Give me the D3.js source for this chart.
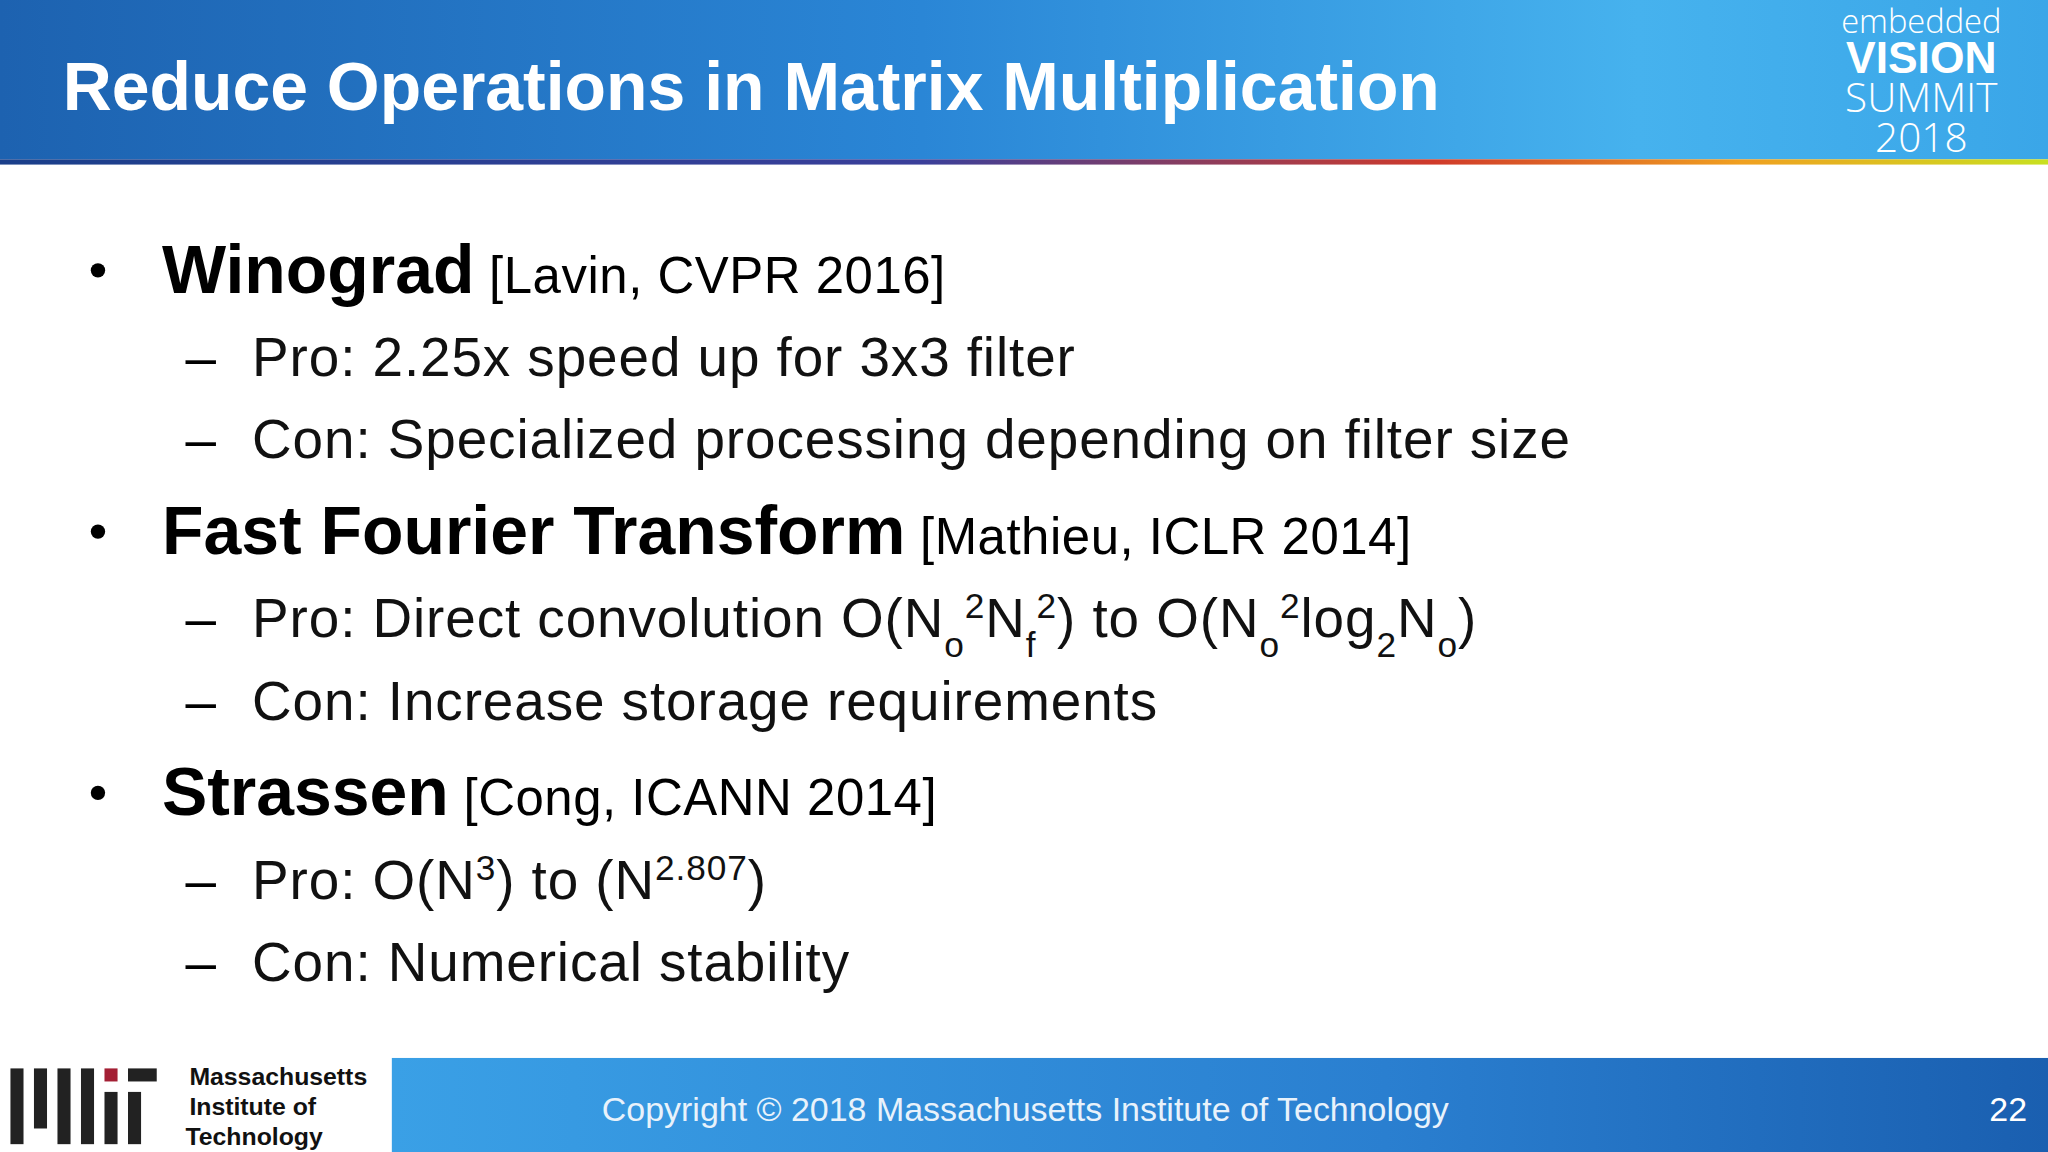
<!DOCTYPE html>
<html><head><meta charset="utf-8">
<script src="https://cdn.jsdelivr.net/npm/d3@7"></script>
<style>body{margin:0;background:#fff}svg{display:block}</style>
</head><body>
<script>
const title = "Reduce Operations in Matrix Multiplication";
const mainItems = ["Winograd", "Fast Fourier Transform", "Strassen"];
const mainRefs = [" [Lavin, CVPR 2016]", " [Mathieu, ICLR 2014]", " [Cong, ICANN 2014]"];
const subItems = [
  [[["Pro: 2.25x speed up for 3x3 filter","n"]], [["Con: Specialized processing depending on filter size","n"]]],
  [[["Pro: Direct convolution O(N","n"],["o","sub"],["2","sup"],["N","n"],["f","sub"],["2","sup"],[") to O(N","n"],["o","sub"],["2","sup"],["log","n"],["2","sub"],["N","n"],["o","sub"],[")","n"]],
   [["Con: Increase storage requirements","n"]]],
  [[["Pro: O(N","n"],["3","sup"],[") to (N","n"],["2.807","sup"],[")","n"]], [["Con: Numerical stability","n"]]]
];
const footer = "Copyright © 2018 Massachusetts Institute of Technology";
const pageNum = "22";

const svg = d3.select("body").append("svg").attr("width",2048).attr("height",1152).attr("viewBox","0 0 1568 882");
const defs = svg.append("defs");
const g1 = defs.append("linearGradient").attr("id","hdr").attr("x1",0).attr("x2",1);
g1.append("stop").attr("offset",0).attr("stop-color","#1d62b0");
g1.append("stop").attr("offset",0.45).attr("stop-color","#2a86d6");
g1.append("stop").attr("offset",0.8).attr("stop-color","#46b2ee");
g1.append("stop").attr("offset",1).attr("stop-color","#3aa6e8");
const g2 = defs.append("linearGradient").attr("id","rb").attr("x1",0).attr("x2",1);
[["0","#1a3f8a"],["0.45","#3a3f9a"],["0.7","#d03a2a"],["0.85","#f0a020"],["1","#c8e020"]].forEach(s=>g2.append("stop").attr("offset",s[0]).attr("stop-color",s[1]));
const g3 = defs.append("linearGradient").attr("id","ft").attr("x1",0).attr("x2",1);
g3.append("stop").attr("offset",0).attr("stop-color","#3aa0e6");
g3.append("stop").attr("offset",0.6).attr("stop-color","#2a7fd0");
g3.append("stop").attr("offset",1).attr("stop-color","#1a5fb0");

svg.append("rect").attr("width",1568).attr("height",122).attr("fill","url(#hdr)");
svg.append("rect").attr("y",122).attr("width",1568).attr("height",4).attr("fill","url(#rb)");
svg.append("text").attr("x",48).attr("y",84).attr("fill","#fff").attr("font-family","Arial, Liberation Sans").attr("font-weight","bold").attr("font-size",52).text(title);

const lg = svg.append("g").attr("font-family","Open Sans, Arial").attr("fill","#fff").attr("text-anchor","middle");
lg.append("text").attr("x",1471).attr("y",25).attr("font-size",25).attr("font-weight",300).text("embedded");
lg.append("text").attr("x",1471).attr("y",56).attr("font-size",34).attr("font-weight","bold").attr("font-family","Arial").text("VISION");
lg.append("text").attr("x",1471).attr("y",86).attr("font-size",31).attr("font-weight",300).text("SUMMIT");
lg.append("text").attr("x",1471).attr("y",116).attr("font-size",31).attr("font-weight",300).text("2018");

const F = "Arial, Liberation Sans";
const mainY = [224, 424, 624];
mainItems.forEach((m,i)=>{
  const by = mainY[i];
  svg.append("circle").attr("cx",75).attr("cy",by-17).attr("r",5.5).attr("fill","#000");
  const t = svg.append("text").attr("x",124).attr("y",by).attr("font-family",F);
  t.append("tspan").attr("font-weight","bold").attr("font-size",52).text(m);
  t.append("tspan").attr("font-size",39).attr("letter-spacing",0.4).text(mainRefs[i]);
  subItems[i].forEach((segs,j)=>{
    const sy = by + 64 + j*63;
    svg.append("text").attr("x",142).attr("y",sy).attr("font-family",F).attr("font-size",42).text("–");
    const st = svg.append("text").attr("x",193).attr("y",sy).attr("font-family",F).attr("font-size",42).attr("letter-spacing",0.7).attr("fill","#111");
    segs.forEach(s=>{
      const sp = st.append("tspan").text(s[0]);
      if(s[1]==="sup") sp.attr("font-size",27).attr("baseline-shift","super");
      if(s[1]==="sub") sp.attr("font-size",27).attr("baseline-shift","sub");
    });
  });
});

svg.append("rect").attr("x",300).attr("y",810).attr("width",1268).attr("height",72).attr("fill","url(#ft)");
svg.append("text").attr("x",785).attr("y",858).attr("text-anchor","middle").attr("fill","#e8f2fb").attr("font-family",F).attr("font-size",26).text(footer);
svg.append("text").attr("x",1552).attr("y",858).attr("text-anchor","end").attr("fill","#fff").attr("font-family",F).attr("font-size",26).text(pageNum);
const bars = [[8,818,10,58],[26,818,10,46],[44,818,10,58],[62,818,10,58],[80,818,10,10],[80,836,10,40],[98,818,22,10],[98,836,10,40]];
bars.forEach(b=>svg.append("rect").attr("x",b[0]).attr("y",b[1]).attr("width",b[2]).attr("height",b[3]).attr("fill",b[0]===80&&b[1]===818?"#a31f34":"#222"));
const mt = svg.append("g").attr("font-family",F).attr("font-weight","bold").attr("font-size",19).attr("fill","#111");
["Massachusetts","Institute of","Technology"].forEach((s,i)=>mt.append("text").attr("x",i==2?142:145).attr("y",831+i*23).text(s));
</script>
</body></html>
